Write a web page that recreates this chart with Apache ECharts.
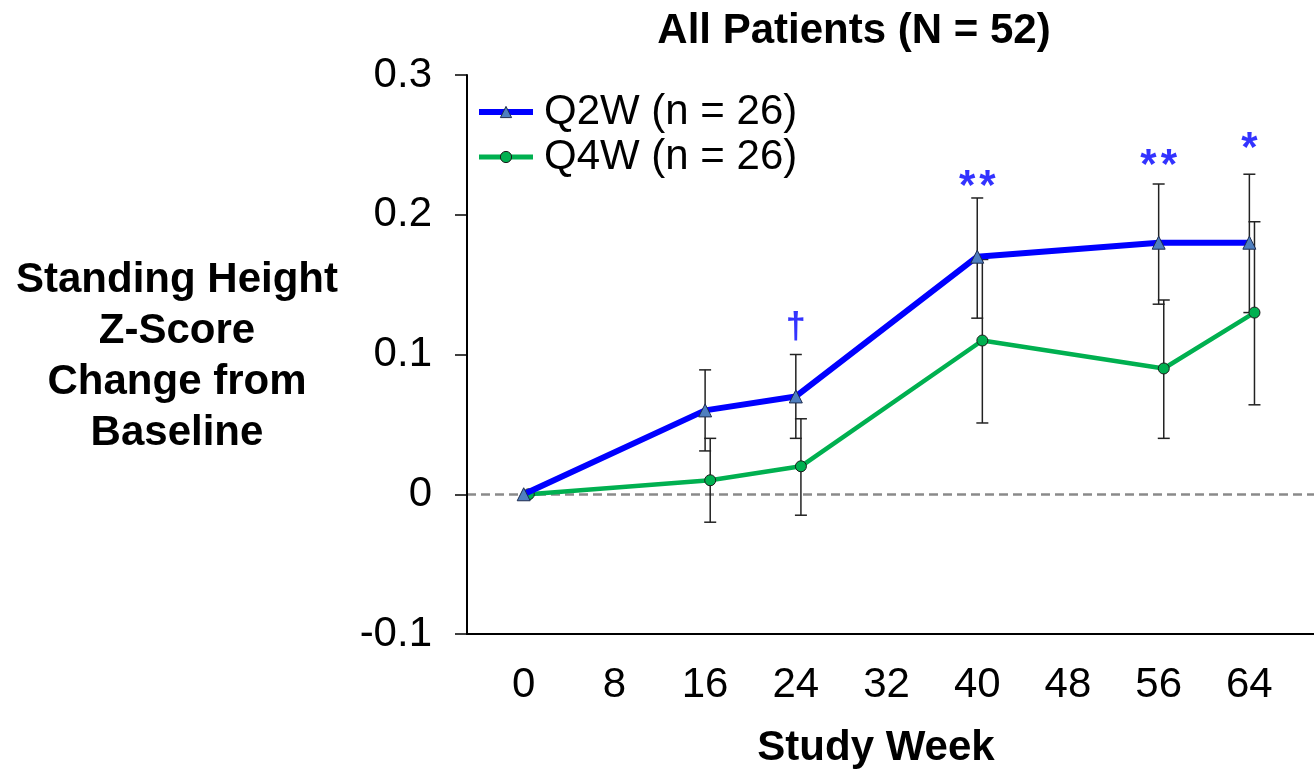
<!DOCTYPE html>
<html>
<head>
<meta charset="utf-8">
<script src="https://cdn.jsdelivr.net/npm/echarts@6/dist/echarts.min.js"></script>
<style>
html,body{margin:0;padding:0;background:#fff;}
#chart{width:1314px;height:773px;}
</style>
</head>
<body>
<div id="chart"></div>
<script>
// ---- data ----
const weeks = [0, 16, 24, 40, 56, 64];
const xTicks = [0, 8, 16, 24, 32, 40, 48, 56, 64];
const q2wMean = [0, 0.06, 0.07, 0.17, 0.18, 0.18];
const q2wLow  = [null, 0.031, 0.04, 0.126, 0.136, 0.13];
const q2wHigh = [null, 0.089, 0.10, 0.212, 0.222, 0.229];
const q4wMean = [0, 0.01, 0.02, 0.11, 0.09, 0.13];
const q4wLow  = [null, -0.02, -0.015, 0.051, 0.04, 0.064];
const q4wHigh = [null, 0.04, 0.054, 0.168, 0.139, 0.195];
const sigWeeks  = [24, 40, 56, 64];
const sigY      = [0.119, 0.224, 0.239, 0.251];
const sigLabels = ['\u2020', '**', '**', '*'];
const seriesNames = ['Q2W (n = 26)', 'Q4W (n = 26)'];

// ---- styling / layout ----
const FONT = '"Liberation Sans", Arial, Helvetica, sans-serif';
const q4wShift = 0.45; // horizontal dodge of the Q4W group (weeks)

const q2wPts = weeks.map((w, i) => [w, q2wMean[i]]);
const q4wPts = weeks.map((w, i) => [w + q4wShift, q4wMean[i]]);
const q2wErr = weeks.map((w, i) => [w, q2wLow[i], q2wHigh[i]]).filter(d => d[1] !== null);
const q4wErr = weeks.map((w, i) => [w + q4wShift, q4wLow[i], q4wHigh[i]]).filter(d => d[1] !== null);

function sigFormatter(p) {
  const s = sigLabels[p.dataIndex];
  if (s === '\u2020') return '{d|' + s + '}';
  return s.split('').map(c => '{s|' + c + '}').join('{g|}');
}
const sigPts = sigWeeks.map((w, i) => ({
  value: [w, sigY[i]],
  label: {offset: [0, sigLabels[i] === '\u2020' ? 0 : 6]}
}));

function errRender(params, api) {
  const x = api.value(0), lo = api.value(1), hi = api.value(2);
  const pT = api.coord([x, hi]);
  const pB = api.coord([x, lo]);
  const w = 6;
  const st = {stroke: '#222', lineWidth: 1.5};
  return {
    type: 'group',
    children: [
      {type: 'line', shape: {x1: pT[0], y1: pT[1], x2: pB[0], y2: pB[1]}, style: st},
      {type: 'line', shape: {x1: pT[0] - w, y1: pT[1], x2: pT[0] + w, y2: pT[1]}, style: st},
      {type: 'line', shape: {x1: pB[0] - w, y1: pB[1], x2: pB[0] + w, y2: pB[1]}, style: st}
    ]
  };
}

const chart = echarts.init(document.getElementById('chart'), null, {renderer: 'canvas'});
chart.setOption({
  animation: false,
  backgroundColor: '#ffffff',
  textStyle: {fontFamily: FONT, color: '#000'},
  title: [
    {text: 'All Patients (N = 52)', left: 854, top: 10, padding: 0, textAlign: 'center', textVerticalAlign: 'top',
     textStyle: {fontFamily: FONT, fontSize: 42, fontWeight: 'bold', color: '#000', lineHeight: 42}},
    {text: 'Standing Height\nZ-Score\nChange from\nBaseline', left: 177, top: 255, padding: 0, textAlign: 'center', textVerticalAlign: 'top',
     textStyle: {fontFamily: FONT, fontSize: 42, fontWeight: 'bold', color: '#000', lineHeight: 51}},
    {text: 'Study Week', left: 876, top: 727, padding: 0, textAlign: 'center', textVerticalAlign: 'top',
     textStyle: {fontFamily: FONT, fontSize: 42, fontWeight: 'bold', color: '#000', lineHeight: 42}}
  ],
  legend: {
    data: [
      {name: seriesNames[0], lineStyle: {width: 6}, itemStyle: {borderWidth: 1}},
      {name: seriesNames[1], lineStyle: {width: 5}, itemStyle: {borderWidth: 1}}
    ],
    orient: 'vertical',
    left: 476,
    top: 91,
    padding: 0,
    itemWidth: 54,
    itemHeight: 14,
    itemGap: 3,
    textStyle: {fontFamily: FONT, fontSize: 42, color: '#000', lineHeight: 42, padding: [0, 0, 0, 6]}
  },
  grid: {left: 467, right: 0, top: 75, bottom: 139, containLabel: false},
  xAxis: {
    type: 'value',
    min: -5,
    max: 69.7,
    axisLine: {onZero: false, lineStyle: {color: '#000', width: 2}},
    axisTick: {show: false},
    splitLine: {show: false},
    axisLabel: {customValues: xTicks, fontFamily: FONT, fontSize: 42, color: '#000', margin: 30}
  },
  yAxis: {
    type: 'value',
    min: -0.1,
    max: 0.3,
    interval: 0.1,
    axisLine: {show: true, onZero: false, lineStyle: {color: '#000', width: 2}},
    axisTick: {show: true, inside: false, length: 12, lineStyle: {color: '#000', width: 1.5}},
    splitLine: {show: false},
    axisLabel: {fontFamily: FONT, fontSize: 42, color: '#000', margin: 35,
      formatter: v => String(Math.round(v * 10) / 10)}
  },
  series: [
    {
      type: 'custom', name: 'q2wErr', renderItem: errRender, data: q2wErr,
      encode: {x: 0, y: [1, 2]}, z: 1, silent: true
    },
    {
      type: 'custom', name: 'q4wErr', renderItem: errRender, data: q4wErr,
      encode: {x: 0, y: [1, 2]}, z: 1, silent: true
    },
    {
      type: 'line', name: seriesNames[1], data: q4wPts, z: 3,
      lineStyle: {color: '#00B050', width: 4.5},
      symbol: 'circle', symbolSize: 11,
      itemStyle: {color: '#00B050', borderColor: '#1a1a1a', borderWidth: 1}
    },
    {
      type: 'line', name: seriesNames[0], data: q2wPts, z: 4,
      lineStyle: {color: '#0000FF', width: 6},
      symbol: 'triangle', symbolSize: 13,
      itemStyle: {color: '#4F7FBF', borderColor: '#1F2D50', borderWidth: 1},
      markLine: {
        silent: true, symbol: 'none', z: 0,
        label: {show: false},
        lineStyle: {color: '#8a8a8a', type: [9, 5], width: 2.5},
        data: [{yAxis: 0}]
      }
    },
    {
      type: 'scatter', name: 'sig', data: sigPts, symbolSize: 1, z: 5, silent: true,
      itemStyle: {color: 'transparent'},
      label: {
        show: true, position: 'inside', formatter: sigFormatter,
        verticalAlign: 'middle', align: 'center',
        rich: {
          s: {color: '#0000FF', fontFamily: FONT, fontSize: 42, fontWeight: 'bold'},
          g: {width: 4},
          d: {color: '#0000FF', fontFamily: FONT, fontSize: 36, fontWeight: 'bold'}
        }
      }
    }
  ]
});
</script>
</body>
</html>
